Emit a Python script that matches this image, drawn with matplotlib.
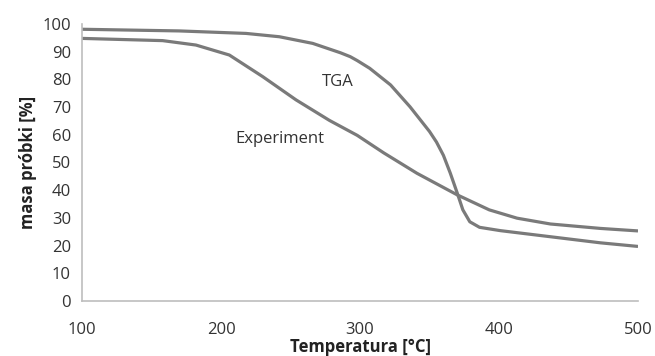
import matplotlib
matplotlib.use("Agg")
import matplotlib.pyplot as plt

plt.rcParams['font.family'] = ['Open Sans', 'DejaVu Sans']

temp_tga = [100, 170, 218, 242, 266, 286, 293, 298, 307, 322, 336, 350, 355, 360, 365, 370, 374, 379, 386, 401, 437, 473, 500]
mass_tga = [98.1, 97.5, 96.6, 95.4, 93.0, 89.6, 88.2, 86.8, 84.0, 78.0, 70.1, 61.2, 57.4, 52.6, 46.1, 38.9, 32.9, 28.6, 26.6, 25.4, 23.2, 21.0, 19.7]

temp_exp = [100, 158, 182, 206, 230, 254, 278, 298, 317, 341, 370, 393, 413, 437, 473, 500]
mass_exp = [94.8, 94.0, 92.4, 88.8, 81.0, 72.6, 65.2, 59.8, 53.5, 46.1, 38.3, 32.9, 29.9, 27.8, 26.2, 25.3]

xticks = [100, 200, 300, 400, 500]
yticks = [0, 10, 20, 30, 40, 50, 60, 70, 80, 90, 100]

fig = plt.figure(figsize=(6.55, 3.56), dpi=100)
ax = fig.add_axes([82/655, 55/356, (638-82)/655, (301-24)/356])

line_color = '#7a7a7a'
ax.plot(temp_tga, mass_tga, color=line_color, lw=2.3, solid_capstyle='butt', solid_joinstyle='round')
ax.plot(temp_exp, mass_exp, color=line_color, lw=2.3, solid_capstyle='butt', solid_joinstyle='round')

ax.set_xlim(100, 500)
ax.set_ylim(0, 100)
ax.set_xticks(xticks)
ax.set_yticks(yticks)
ax.tick_params(axis='both', length=0, labelsize=12, colors='#333333')
ax.tick_params(axis='x', pad=15)
ax.tick_params(axis='y', pad=8)

for s in ['top', 'right']:
    ax.spines[s].set_visible(False)
for s in ['left', 'bottom']:
    ax.spines[s].set_color('#bdbdbd')
    ax.spines[s].set_linewidth(1.2)

ax.set_xlabel('Temperatura [°C]', fontsize=12, fontweight='bold', color='#222222', labelpad=0)
ax.set_ylabel('masa próbki [%]', fontsize=12, fontweight='bold', color='#222222', labelpad=4)

ax.text(284, 79, 'TGA', fontsize=12, color='#333333', ha='center', va='center')
ax.text(242, 58.5, 'Experiment', fontsize=12, color='#333333', ha='center', va='center')

fig.savefig('out.png', dpi=100)
